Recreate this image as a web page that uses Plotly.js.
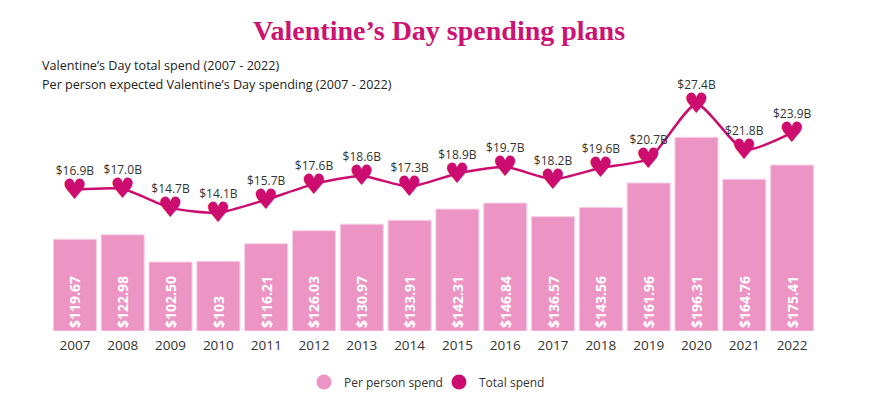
<!DOCTYPE html>
<html>
<head>
<meta charset="utf-8">
<script src="https://cdn.plot.ly/plotly-3.0.1.min.js"></script>
<style>
html,body{margin:0;padding:0;background:#fff;}
#chart{width:878px;height:399px;}
</style>
</head>
<body>
<div id="chart"></div>
<script>
const years = ['2007','2008','2009','2010','2011','2012','2013','2014','2015','2016','2017','2018','2019','2020','2021','2022'];
const perPerson = [119.67,122.98,102.50,103,116.21,126.03,130.97,133.91,142.31,146.84,136.57,143.56,161.96,196.31,164.76,175.41];
const perPersonLabels = ['$119.67','$122.98','$102.50','$103','$116.21','$126.03','$130.97','$133.91','$142.31','$146.84','$136.57','$143.56','$161.96','$196.31','$164.76','$175.41'];
const totalSpend = [16.9,17.0,14.7,14.1,15.7,17.6,18.6,17.3,18.9,19.7,18.2,19.6,20.7,27.4,21.8,23.9];
const totalLabels = ['$16.9B','$17.0B','$14.7B','$14.1B','$15.7B','$17.6B','$18.6B','$17.3B','$18.9B','$19.7B','$18.2B','$19.6B','$20.7B','$27.4B','$21.8B','$23.9B'];
const hearts = years.map(() => '\u2665');

// visual baseline of the per-person bars (the chart's value axis does not start at zero)
const BAR_BASE = 50.6;

const BAR = '#ec94c4';
const MAG = '#cc0c6f';
const FONT = 'Open Sans, sans-serif';

const traces = [
  {
    type: 'bar', x: years, base: BAR_BASE, y: perPerson.map(v => v - BAR_BASE),
    text: perPersonLabels,
    textposition: 'inside', insidetextanchor: 'start', textangle: -90,
    textfont: {family: FONT, size: 14, color: '#ffffff', weight: 700},
    marker: {color: BAR, line: {color: '#f8cfe5', width: 1}},
    showlegend: false, hoverinfo: 'skip'
  },
  {
    type: 'scatter', x: years, y: totalSpend, yaxis: 'y2',
    mode: 'lines+markers+text', text: totalLabels, textposition: 'top center',
    textfont: {family: FONT, size: 12, color: '#333333'},
    line: {color: MAG, width: 2.5, shape: 'spline', smoothing: 0.6},
    marker: {size: 17, color: 'rgba(0,0,0,0)'},
    cliponaxis: false, showlegend: false, hoverinfo: 'skip'
  },
  {
    type: 'scatter', x: years, y: totalSpend, yaxis: 'y3',
    mode: 'text', text: hearts, textposition: 'middle center',
    textfont: {family: 'DejaVu Sans, sans-serif', size: 28, color: MAG},
    cliponaxis: false, showlegend: false, hoverinfo: 'skip'
  },
  {
    type: 'scatter', x: [null], y: [null], mode: 'markers', name: 'Per person spend',
    marker: {size: 15, color: BAR, symbol: 'circle'}, showlegend: true
  },
  {
    type: 'scatter', x: [null], y: [null], mode: 'markers', name: 'Total spend',
    marker: {size: 15, color: MAG, symbol: 'circle'}, showlegend: true
  }
];

const layout = {
  width: 878, height: 399,
  margin: {l: 51, r: 62, t: 90, b: 67.5, pad: 0},
  paper_bgcolor: '#ffffff', plot_bgcolor: '#ffffff',
  font: {family: FONT, color: '#333333'},
  title: {
    text: 'Valentine\u2019s Day spending plans',
    font: {family: 'Liberation Serif, serif', size: 28, color: '#cc1272', weight: 700},
    x: 0.5, xanchor: 'center', xref: 'container',
    y: 0.925, yanchor: 'middle', yref: 'container'
  },
  bargap: 0.1,
  xaxis: {
    type: 'category', range: [-0.5, 15.5], showgrid: false, showline: false, zeroline: false, ticks: '',
    ticklabelstandoff: 4,
    tickfont: {family: FONT, size: 13.5, color: '#333333'}, fixedrange: true
  },
  yaxis: {visible: false, range: [BAR_BASE, 231.9], fixedrange: true},
  yaxis2: {visible: false, overlaying: 'y', range: [-0.36, 29.11], fixedrange: true},
  yaxis3: {visible: false, overlaying: 'y', range: [-0.06, 29.41], fixedrange: true},
  showlegend: true,
  legend: {
    orientation: 'h', x: 0.5, xanchor: 'center', xref: 'container',
    y: 0.0426, yanchor: 'middle', yref: 'container', entrywidth: 90, entrywidthmode: 'pixels',
    font: {family: FONT, size: 12, color: '#333333'}, bgcolor: 'rgba(0,0,0,0)'
  },
  annotations: [
    {text: 'Valentine\u2019s Day total spend (2007 - 2022)', xref: 'paper', yref: 'paper',
     x: -0.0144, y: 1.1035, xanchor: 'left', yanchor: 'middle', showarrow: false,
     font: {family: FONT, size: 12.6, color: '#222222'}},
    {text: 'Per person expected Valentine\u2019s Day spending (2007 - 2022)', xref: 'paper', yref: 'paper',
     x: -0.0144, y: 1.0248, xanchor: 'left', yanchor: 'middle', showarrow: false,
     font: {family: FONT, size: 12.6, color: '#222222'}}
  ]
};

Plotly.newPlot('chart', traces, layout, {staticPlot: true, displayModeBar: false});
</script>
</body>
</html>
